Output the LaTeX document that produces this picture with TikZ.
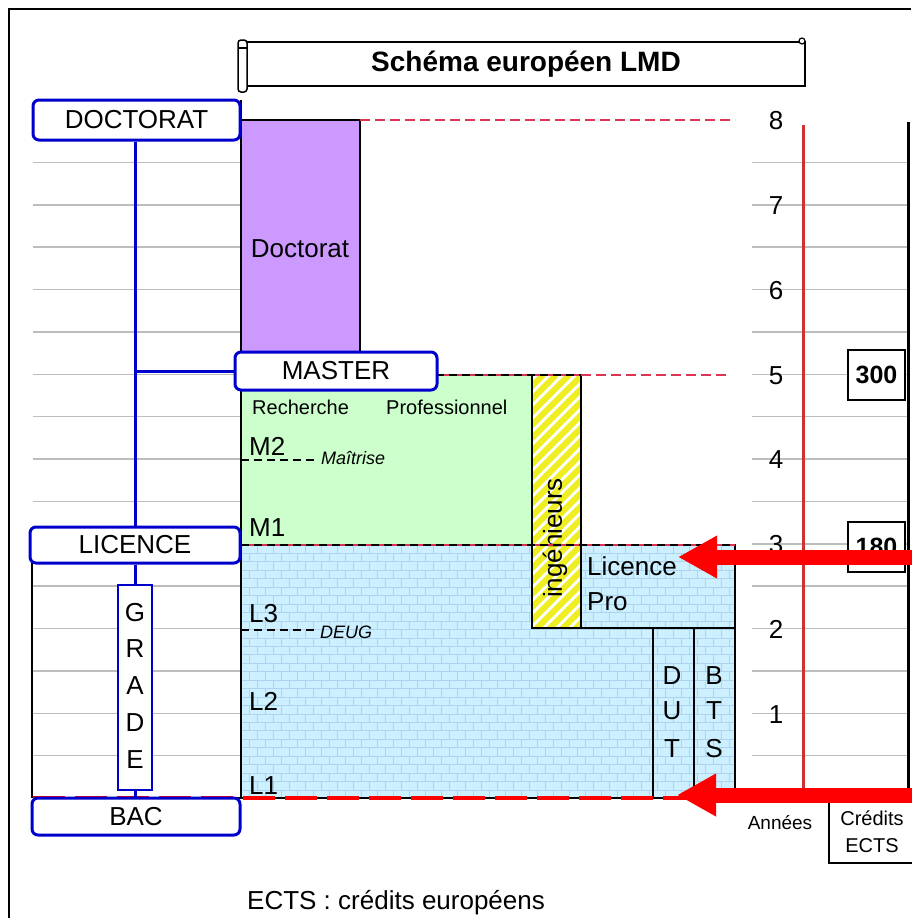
\documentclass[tikz,border=0pt]{standalone}
\usepackage{fontspec}
\setmainfont{Liberation Sans}
\usetikzlibrary{arrows.meta}
\definecolor{bluel}{HTML}{0000CC}
\definecolor{gridg}{HTML}{BDBDBD}
\definecolor{purp}{HTML}{CC99FF}
\definecolor{greenf}{HTML}{CCFFCC}
\definecolor{brickbg}{HTML}{CCF0FF}
\definecolor{brickln}{HTML}{ADD3EE}
\definecolor{yell}{HTML}{EEEE22}
\definecolor{dashred}{HTML}{DD3355}
\definecolor{axred}{HTML}{CC3333}
\definecolor{arrred}{HTML}{FF0000}
\begin{document}
\begin{tikzpicture}[x=1pt,y=-1pt,
  big/.style={font=\fontsize{26}{28}\selectfont, inner sep=0pt},
  small/.style={font=\fontsize{20}{22}\selectfont, inner sep=0pt},
  ital/.style={font=\fontsize{18}{20}\selectfont\itshape, inner sep=0pt},
  lvlbox/.style={draw=bluel, line width=3pt, rounded corners=6pt, fill=white,
     font=\fontsize{26}{28}\selectfont, inner sep=0pt},
  gradebox/.style={draw=bluel, line width=1.5pt, fill=white, inner sep=0pt},
  numbox/.style={draw=black, line width=1.5pt, fill=white, inner sep=0pt,
     font=\fontsize{25}{27}\selectfont\bfseries},
  blueline/.style={draw=bluel, line width=3pt},
  gridl/.style={draw=gridg, line width=1.5pt},
  blk/.style={draw=black, line width=1.2pt},
  reddash/.style={draw=dashred, line width=1.5pt, dash pattern=on 10pt off 5pt},
  blkdash/.style={draw=black, line width=1.2pt, dash pattern=on 8pt off 5pt},
  redarrow/.style={draw=arrred, line width=15pt, -{Triangle[length=39pt,width=40pt]}}
]
\useasboundingbox (0,0) rectangle (911,918);
% outer frame
\draw[line width=2pt] (9,918) -- (9,9) -- (911,9);
% grid lines
\foreach \k in {0.5,1,...,7.5}{
  \draw[gridl] (33,{798-84.75*\k}) -- (240,{798-84.75*\k});
  \draw[gridl] (752,{798-84.75*\k}) -- (907,{798-84.75*\k});
}
% title
\node[draw=black, line width=1.5pt, fill=white, minimum width=558pt, minimum height=44pt,
  font=\fontsize{28}{30}\selectfont\bfseries, inner sep=0pt] (title) at (526,64) {Schéma européen LMD};
\draw[line width=1.5pt, fill=white, rounded corners=3pt] (238,40) rectangle (247,92);
\draw[line width=1.2pt] (238,48) -- (247,48);
\draw[line width=1.2pt, fill=white] (802,41) circle (3pt);
% purple doctorat
\fill[purp] (241,120) rectangle (360,375);
\draw[blk] (241,120) -- (360,120) -- (360,375);
\node[big] (docl) at (300,249) {Doctorat};
% green master
\fill[greenf] (241,375) rectangle (532,545);
% bricks
\begin{scope}
  \clip (241,545) rectangle (735,798);
  \fill[brickbg] (241,545) rectangle (735,798);
  \foreach \r in {0,...,30}{
    \draw[brickln, line width=0.9pt] (241,{545+8.45*\r}) -- (735,{545+8.45*\r});
    \pgfmathsetmacro{\off}{mod(\r,2)*8}
    \foreach \c in {0,...,31}{
      \draw[brickln, line width=0.9pt] ({241+\off+16*\c},{545+8.45*\r}) -- ({241+\off+16*\c},{545+8.45*(\r+1)});
    }
  }
\end{scope}
% yellow hatched ingenieurs
\begin{scope}
  \clip (532,375) rectangle (581,628);
  \fill[white] (532,375) rectangle (581,628);
  \foreach \i in {-280,-267,...,80}{
    \draw[yell, line width=6pt] ({532+\i},640) -- ({532+\i+265},375);
  }
\end{scope}
\draw[blk] (532,375) rectangle (581,628);
\node[big, rotate=90] (ing) at (555,538) {ingénieurs};
% boxes of licence pro, DUT, BTS
\draw[blk] (581,545) rectangle (735,628);
\draw[blk] (653,628) rectangle (694,798);
\draw[blk] (694,628) rectangle (735,798);
\draw[blk] (241,100) -- (241,798);
% dashed limits
\draw[reddash] (360,120) -- (735,120);
\draw[reddash] (581,375) -- (730,375);
\draw[draw=dashred, line width=1.5pt] (241,375) -- (581,375);
\draw[blkdash] (241,375) -- (581,375);
\draw[draw=dashred, line width=1.5pt] (241,545) -- (735,545);
\draw[blkdash] (241,545) -- (735,545);
\draw[draw=black, line width=1.2pt] (33,798) -- (690,798);
\draw[draw=red, line width=3.5pt, dash pattern=on 32pt off 10pt] (33,798) -- (690,798);
% texts in master / licence
\node[small, anchor=west] (rech) at (252,407) {Recherche};
\node[small, anchor=west] (prof) at (386,407) {Professionnel};
\node[big, anchor=west] (m2) at (249,446) {M2};
\draw[blkdash] (241,460) -- (314,460);
\node[ital, anchor=west] (mait) at (321,458) {Maîtrise};
\node[big, anchor=west] (m1) at (249,528) {M1};
\node[big, anchor=west] (l3) at (249,614) {L3};
\draw[blkdash] (241,630) -- (314,630);
\node[ital, anchor=west] (deug) at (320,632) {DEUG};
\node[big, anchor=west] (l2) at (249,701) {L2};
\node[big, anchor=west] (l1) at (249,786) {L1};
\node[big, anchor=west] (lic1) at (587,566) {Licence};
\node[big, anchor=west] (pro) at (587,602) {Pro};
\node[big] (d1) at (672,676) {D};
\node[big] (d2) at (672,711) {U};
\node[big] (d3) at (672,749) {T};
\node[big] (b1) at (714,676) {B};
\node[big] (b2) at (714,711) {T};
\node[big] (b3) at (714,749) {S};
% left column
\draw[blk] (32,563) -- (32,798);
\node[gradebox, minimum width=34pt, minimum height=205pt] (gr) at (135,687.5) {};
\foreach \l/\yy in {G/613,R/649,A/686,D/723,E/760}{
  \node[big] at (135,\yy) {\l};
}
\node[lvlbox, minimum width=207pt, minimum height=40pt] (doc) at (136.5,120) {DOCTORAT};
\node[lvlbox, minimum width=202pt, minimum height=38pt] (mas) at (336,371) {MASTER};
\node[lvlbox, minimum width=210pt, minimum height=36pt] (lic) at (135,545) {LICENCE};
\node[lvlbox, minimum width=208pt, minimum height=37pt] (bac) at (136,816.5) {BAC};
\draw[blueline] (gr.north |- doc.south) -- (gr.north |- lic.north);
\draw[blueline] (gr.north |- mas.west) -- (mas.west);
\draw[blueline] (gr.north |- lic.south) -- (gr.north);
\draw[blueline] (gr.south) -- (gr.south |- bac.north);
% scale
\draw[draw=axred, line width=3pt] (803,125) -- (803,798);
\draw[draw=black, line width=3pt] (908,122) -- (908,805);
\foreach \k in {1,...,8}{
  \node[big] (n\k) at (776,{799-84.75*\k}) {\k};
}
\node[numbox, minimum width=57pt, minimum height=50pt] (c300) at (876.5,375) {300};
\node[numbox, minimum width=57pt, minimum height=50pt] (c180) at (876.5,547) {180};
\node[small, font=\fontsize{19}{21}\selectfont] (annees) at (780,823) {Années};
\node[draw=black, line width=1.5pt, fill=white, minimum width=86pt, minimum height=63pt,
  inner sep=0pt, align=center, font=\fontsize{20}{27}\selectfont] (cred) at (872,831.5) {Crédits\\ECTS};
\node[big, anchor=west] (legend) at (247,903) {ECTS : crédits européens};
% arrows
\coordinate (a1s) at (915,557);
\coordinate (a1e) at (678,557);
\coordinate (a2s) at (915,795);
\coordinate (a2e) at (677,795);
\draw[redarrow] (a1s) -- (a1e);
\draw[redarrow] (a2s) -- (a2e);
\end{tikzpicture}
\end{document}
